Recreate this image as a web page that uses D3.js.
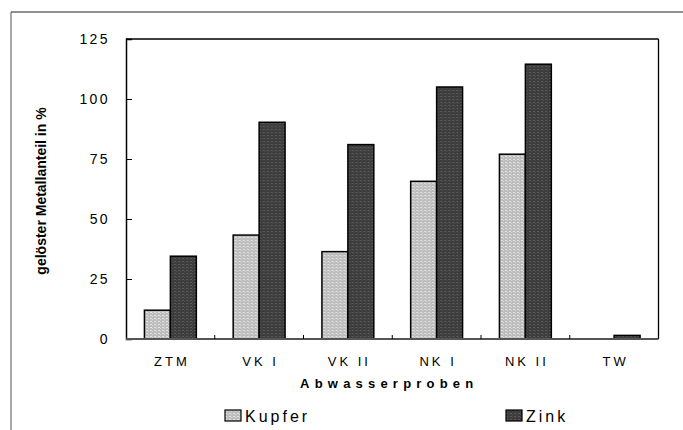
<!DOCTYPE html>
<html>
<head>
<meta charset="utf-8">
<script src="https://cdn.jsdelivr.net/npm/d3@7"></script>
<style>
  body { margin: 0; background: #fff; }
  svg { display: block; font-family: Arial, "Liberation Sans", sans-serif; }
</style>
</head>
<body>
<svg id="chart"></svg>
<script>
// data
const categories = ['ZTM', 'VK I', 'VK II', 'NK I', 'NK II', 'TW'];
const seriesNames = ['Kupfer', 'Zink'];
const kupfer = [12, 43.3, 36.4, 65.7, 77, 0];
const zink = [34.5, 90.3, 81, 105, 114.5, 1.5];
const yTicks = [0, 25, 50, 75, 100, 125];

const width = 683, height = 430;
const margin = { top: 39, right: 24, bottom: 90, left: 126 };

const svg = d3.select('#chart')
    .attr('width', width)
    .attr('height', height);

// bar fill patterns (light dotted grey, dark dotted grey)
const defs = svg.append('defs');
const light = defs.append('pattern').attr('id', 'pLight')
    .attr('patternUnits', 'userSpaceOnUse').attr('width', 4).attr('height', 3);
light.append('rect').attr('width', 4).attr('height', 3).attr('fill', '#bcbcbc');
light.append('rect').attr('x', 0).attr('y', 0).attr('width', 2).attr('height', 1).attr('fill', '#e2e2e2');
light.append('rect').attr('x', 2).attr('y', 1).attr('width', 1).attr('height', 1).attr('fill', '#d6d6d6');

const dark = defs.append('pattern').attr('id', 'pDark')
    .attr('patternUnits', 'userSpaceOnUse').attr('width', 4).attr('height', 3);
dark.append('rect').attr('width', 4).attr('height', 3).attr('fill', '#3c3c3c');
dark.append('rect').attr('x', 0).attr('y', 0).attr('width', 2).attr('height', 1).attr('fill', '#5a5a5a');
dark.append('rect').attr('x', 2).attr('y', 1).attr('width', 1).attr('height', 1).attr('fill', '#4c4c4c');

const fills = { Kupfer: 'url(#pLight)', Zink: 'url(#pDark)' };
const values = { Kupfer: kupfer, Zink: zink };

// outer frame (only top and left visible)
svg.append('line').attr('x1', 11).attr('x2', width).attr('y1', 12).attr('y2', 12)
    .attr('stroke', '#222').attr('stroke-width', 1);
svg.append('line').attr('x1', 11).attr('x2', 11).attr('y1', 12).attr('y2', height)
    .attr('stroke', '#555').attr('stroke-width', 1);

const x0 = d3.scaleBand()
    .domain(categories)
    .range([margin.left, width - margin.right - 0.5]);

const x1 = d3.scaleBand()
    .domain(seriesNames)
    .range([0, x0.bandwidth()])
    .paddingOuter(0.71);

const y = d3.scaleLinear()
    .domain([0, 125])
    .range([height - margin.bottom - 1, margin.top]);

const plotRight = x0.range()[1];

// plot frame top & right
svg.append('line').attr('x1', margin.left).attr('x2', plotRight)
    .attr('y1', y(125)).attr('y2', y(125)).attr('stroke', '#000').attr('stroke-width', 1.3);
svg.append('line').attr('x1', plotRight).attr('x2', plotRight)
    .attr('y1', y(125)).attr('y2', y(0)).attr('stroke', '#000').attr('stroke-width', 1.3);

// bars
const groups = svg.append('g').selectAll('g')
    .data(categories)
    .join('g')
    .attr('transform', d => `translate(${x0(d)},0)`);

groups.selectAll('rect')
    .data((c, i) => seriesNames.map(s => ({ s, v: values[s][i] })).filter(d => d.v > 0))
    .join('rect')
    .attr('x', d => x1(d.s))
    .attr('y', d => y(d.v))
    .attr('width', x1.bandwidth())
    .attr('height', d => y(0) - y(d.v))
    .attr('fill', d => fills[d.s])
    .attr('stroke', '#000')
    .attr('stroke-width', 1.5);

// y axis
const gy = svg.append('g')
    .attr('transform', `translate(${margin.left},0)`)
    .call(d3.axisRight(y).tickValues(yTicks).tickSize(6).tickFormat(d3.format('d')));
gy.select('.domain').attr('stroke', '#000').attr('stroke-width', 1.5);
gy.selectAll('.tick line').attr('stroke', '#000');
gy.selectAll('.tick text')
    .attr('x', -16)
    .attr('text-anchor', 'end')
    .attr('font-size', 14)
    .attr('letter-spacing', '2.4px')
    .attr('fill', '#000')
    .attr('font-family', 'Arial, "Liberation Sans", sans-serif');

// x axis baseline
svg.append('line')
    .attr('x1', margin.left).attr('x2', plotRight)
    .attr('y1', y(0)).attr('y2', y(0))
    .attr('stroke', '#555').attr('stroke-width', 2);

// boundary ticks between categories (pointing up)
svg.append('g').selectAll('line')
    .data(categories.slice(1))
    .join('line')
    .attr('x1', d => x0(d)).attr('x2', d => x0(d))
    .attr('y1', y(0)).attr('y2', y(0) - 4)
    .attr('stroke', '#000').attr('stroke-width', 1);

// category labels
svg.append('g').selectAll('text')
    .data(categories)
    .join('text')
    .attr('x', d => x0(d) + x0.bandwidth() / 2 + 1.5)
    .attr('y', y(0) + 27)
    .attr('text-anchor', 'middle')
    .attr('font-size', 13)
    .attr('letter-spacing', '3px')
    .text(d => d);

// axis titles
svg.append('text')
    .attr('x', (margin.left + plotRight) / 2 - 3)
    .attr('y', y(0) + 49)
    .attr('text-anchor', 'middle')
    .attr('font-size', 13)
    .attr('font-weight', 'bold')
    .attr('letter-spacing', '5.2px')
    .text('Abwasserproben');

svg.append('text')
    .attr('transform', `translate(46, ${(y(0) + y(125)) / 2 + 2}) rotate(-90)`)
    .attr('text-anchor', 'middle')
    .attr('font-size', 14)
    .attr('font-weight', 'bold')
    .text('gelöster Metallanteil in %');

// legend
const legendX = { Kupfer: 225, Zink: 506 };
const legend = svg.append('g').selectAll('g')
    .data(seriesNames)
    .join('g')
    .attr('transform', d => `translate(${legendX[d]}, 410)`);
legend.append('rect')
    .attr('width', 16).attr('height', 11)
    .attr('fill', d => fills[d])
    .attr('stroke', '#000').attr('stroke-width', 1.2);
legend.append('text')
    .attr('x', 20)
    .attr('y', 12)
    .attr('font-size', 16)
    .attr('letter-spacing', '3px')
    .text(d => d);
</script>
</body>
</html>
